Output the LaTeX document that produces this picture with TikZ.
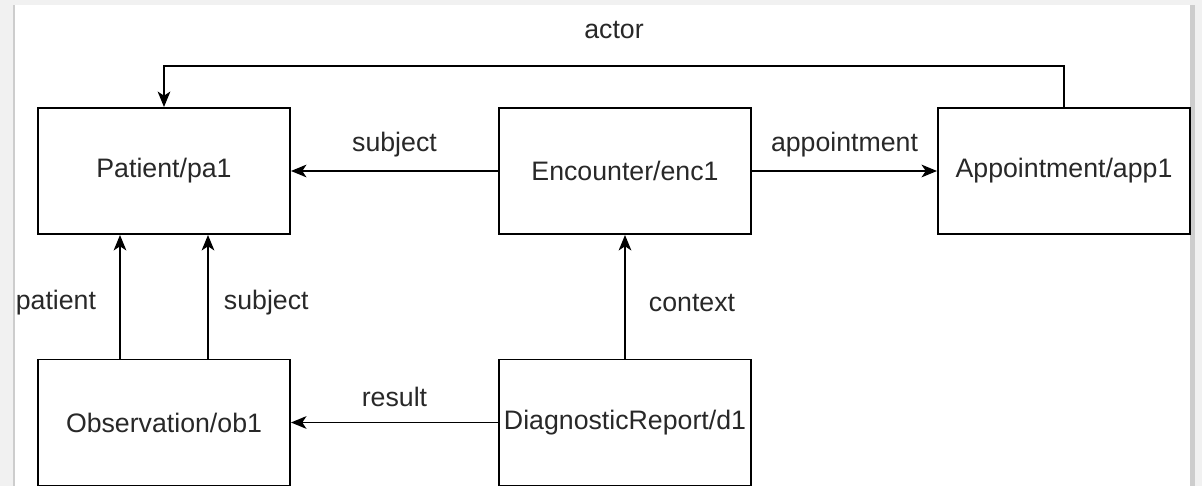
\documentclass[tikz,border=0pt]{standalone}
\usepackage{fontspec}
\setmainfont{Liberation Sans}
\usetikzlibrary{arrows.meta, positioning, calc}
\definecolor{pagegray}{RGB}{241,241,241}
\definecolor{shadowgray}{RGB}{205,205,205}
\definecolor{inkcolor}{RGB}{40,40,40}
\tikzset{
  box/.style   = {draw=black, line width=1.4pt, fill=white, minimum width=6.3cm,
                  minimum height=3.15cm, inner sep=0pt, text=inkcolor,
                  font=\fontsize{19}{22}\selectfont},
  arrow/.style = {-{Stealth[length=11pt, width=9pt, inset=3pt]}, line width=1.4pt, color=black},
  lbl/.style   = {font=\fontsize{19}{22}\selectfont, text=inkcolor, inner sep=0pt},
}

\begin{document}
\begin{tikzpicture}

  % page with its shadow
  \useasboundingbox (0,0) rectangle (30.05,12.15);
  \fill[pagegray] (0,0) rectangle (30.05,12.15);
  \fill[shadowgray] (0.32,0) rectangle (29.87,12.025);
  \fill[white] (0.375,0) rectangle (29.75,12.025);

  % resources
  \foreach \n/\x/\y/\t in {pa/4.1/7.875/{Patient/pa1}, enc/15.625/7.875/{Encounter/enc1},
                           app/26.6/7.875/{Appointment/app1}, ob/4.1/1.5875/{Observation/ob1},
                           dr/15.625/1.5875/{DiagnosticReport/d1}} {
    \node[box] (\n) at (\x,\y) {\t};
  }

  % top row references
  \draw[arrow] (enc.west) -- node[lbl, midway, yshift=0.65cm] (lsubj) {subject} (pa.east);
  \draw[arrow] (enc.east) -- node[lbl, midway, yshift=0.65cm] (lapp) {appointment} (app.west);
  \draw[arrow] (app.north) -- ++(0,1.025) -| node[lbl, pos=0.25, yshift=0.91cm] (lactor) {actor} (pa.north);

  % references going up
  \draw[arrow] ([xshift=-1.1cm]ob.north) -- node[lbl, midway, left=0.575cm, yshift=-0.15cm] (lpat) {patient} ([xshift=-1.1cm]pa.south);
  \draw[arrow] ([xshift=1.1cm]ob.north) -- node[lbl, midway, right=0.375cm, yshift=-0.15cm] (lsubj2) {subject} ([xshift=1.1cm]pa.south);
  \draw[arrow] (dr.north) -- node[lbl, midway, right=0.575cm, yshift=-0.15cm] (lctx) {context} (enc.south);

  % bottom row
  \draw[arrow] (dr.west) -- node[lbl, midway, yshift=0.65cm] (lres) {result} (ob.east);

\end{tikzpicture}
\end{document}
